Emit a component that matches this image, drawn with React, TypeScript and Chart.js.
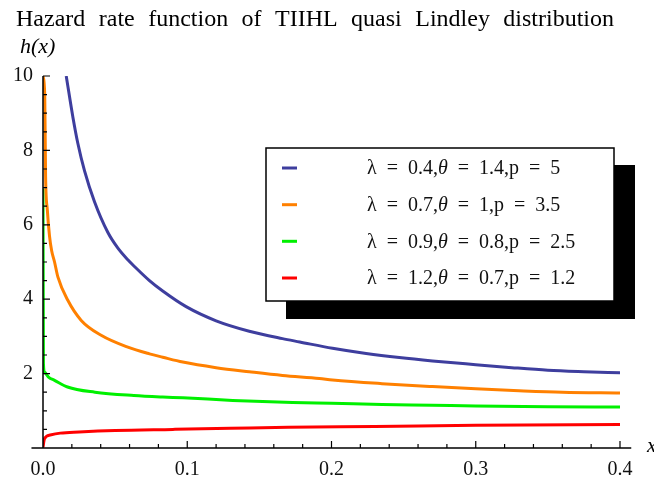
import React, { useEffect, useRef } from "react";
import { Chart, registerables } from "chart.js";

Chart.register(...registerables);

// ---------- text ----------
const TITLE_WORDS = ["Hazard", "rate", "function", "of", "TIIHL", "quasi", "Lindley", "distribution"];
const Y_AXIS_LABEL = "h(x)";
const X_AXIS_LABEL = "x";
const X_TICK_VALUES = [0, 0.1, 0.2, 0.3, 0.4];
const Y_TICK_VALUES = [2, 4, 6, 8, 10];

// ---------- legend parameters ----------
const LAMBDAS = ["0.4", "0.7", "0.9", "1.2"];
const THETAS = ["1.4", "1", "0.8", "0.7"];
const PS = ["5", "3.5", "2.5", "1.2"];
const COLORS = ["#3e3e9e", "#ff8000", "#00f000", "#ff0000"];

// ---------- series values ----------
const blueX = [0.0161, 0.0207, 0.0241, 0.0288, 0.0357, 0.0449, 0.0518, 0.0588, 0.0634, 0.0738, 0.083, 0.0992, 0.12, 0.143, 0.166, 0.178, 0.2007, 0.224, 0.247, 0.27, 0.3, 0.325, 0.35, 0.375, 0.4];
const blueY = [10.0, 8.9, 8.2, 7.45, 6.62, 5.8, 5.38, 5.06, 4.88, 4.5, 4.22, 3.8, 3.42, 3.14, 2.94, 2.85, 2.68, 2.54, 2.43, 2.34, 2.24, 2.16, 2.09, 2.05, 2.02];

const orangeX = [0, 0.0012, 0.0018, 0.003, 0.0045, 0.006, 0.008, 0.0103, 0.0172, 0.0265, 0.0403, 0.0588, 0.0738, 0.083, 0.0969, 0.12, 0.143, 0.166, 0.1916, 0.2007, 0.235, 0.27, 0.3, 0.33, 0.36, 0.4];
const orangeY = [10, 9.5, 7.3, 6.4, 5.7, 5.3, 5.0, 4.6, 3.97, 3.43, 3.03, 2.71, 2.53, 2.44, 2.31, 2.16, 2.05, 1.95, 1.87, 1.83, 1.73, 1.65, 1.59, 1.54, 1.5, 1.48];

const greenX = [0, 0.0003, 0.001, 0.004, 0.008, 0.017, 0.036, 0.063, 0.083, 0.097, 0.1315, 0.173, 0.2, 0.235, 0.27, 0.3, 0.35, 0.4];
const greenY = [6.97, 2.27, 2.04, 1.9, 1.82, 1.64, 1.5, 1.41, 1.37, 1.35, 1.28, 1.22, 1.2, 1.17, 1.15, 1.13, 1.11, 1.1];

const redX = [0, 0.001, 0.005, 0.012, 0.025, 0.05, 0.09, 0.13, 0.17, 0.23, 0.3, 0.4];
const redY = [0.02, 0.25, 0.35, 0.4, 0.43, 0.47, 0.5, 0.53, 0.56, 0.58, 0.61, 0.63];

const SERIES_X = [blueX, orangeX, greenX, redX];
const SERIES_Y = [blueY, orangeY, greenY, redY];

const SERIF = '"Liberation Serif", "Times New Roman", serif';

const decorPlugin = {
  id: "decor",
  afterDatasetsDraw(chart: any) {
    const { ctx } = chart;
    const xs = chart.scales.x;
    const ys = chart.scales.y;
    const x0 = xs.getPixelForValue(0);
    const y0 = ys.getPixelForValue(0);
    ctx.save();
    ctx.strokeStyle = "#000";
    ctx.lineWidth = 1.5;
    ctx.beginPath();
    ctx.moveTo(xs.getPixelForValue(-0.008), y0);
    ctx.lineTo(xs.getPixelForValue(0.4078), y0);
    ctx.moveTo(x0, y0);
    ctx.lineTo(x0, ys.getPixelForValue(10));
    ctx.stroke();
    ctx.lineWidth = 1.2;
    ctx.beginPath();
    for (let i = 1; i <= 20; i++) {
      const px = xs.getPixelForValue(i * 0.02);
      const len = i % 5 === 0 ? 7 : 4;
      ctx.moveTo(px, y0);
      ctx.lineTo(px, y0 - len);
    }
    for (let i = 1; i <= 20; i++) {
      const py = ys.getPixelForValue(i * 0.5);
      const len = i % 4 === 0 ? 7 : 4;
      ctx.moveTo(x0, py);
      ctx.lineTo(x0 + len, py);
    }
    ctx.stroke();
    ctx.restore();
  },
  afterDraw(chart: any) {
    const { ctx } = chart;
    const xs = chart.scales.x;
    const ys = chart.scales.y;
    ctx.save();
    ctx.fillStyle = "#000";
    // title
    ctx.font = `24px ${SERIF}`;
    ctx.textBaseline = "alphabetic";
    ctx.textAlign = "left";
    const widths = TITLE_WORDS.map((w) => ctx.measureText(w).width);
    const total = widths.reduce((a, b) => a + b, 0);
    const startX = 16;
    const endX = 614;
    const gap = (endX - startX - total) / (TITLE_WORDS.length - 1);
    let cx = startX;
    TITLE_WORDS.forEach((w, i) => {
      ctx.fillText(w, cx, 26);
      cx += widths[i] + gap;
    });
    // y axis label h(x)
    ctx.font = `italic 22px ${SERIF}`;
    ctx.fillText(Y_AXIS_LABEL, 20, 53);
    // x axis label
    ctx.font = `italic 21px ${SERIF}`;
    ctx.fillText(X_AXIS_LABEL, xs.getPixelForValue(0.4) + 27, ys.getPixelForValue(0) + 4);

    // legend
    const bx = 266, by = 148, bw = 348, bh = 153;
    ctx.fillStyle = "#000";
    ctx.fillRect(bx + 20, by + 17, bw + 1, bh + 1);
    ctx.fillStyle = "#fff";
    ctx.fillRect(bx, by, bw, bh);
    ctx.strokeStyle = "#000";
    ctx.lineWidth = 1.5;
    ctx.strokeRect(bx, by, bw, bh);
    const rowY = [168, 204.7, 241.3, 278];
    for (let i = 0; i < 4; i++) {
      const yy = rowY[i];
      ctx.strokeStyle = COLORS[i];
      ctx.lineWidth = 3;
      ctx.beginPath();
      ctx.moveTo(282, yy);
      ctx.lineTo(297, yy);
      ctx.stroke();
      ctx.fillStyle = "#111";
      ctx.textBaseline = "middle";
      let tx = 367;
      const parts: [string, boolean][] = [
        ["λ  =  " + LAMBDAS[i] + ",", false],
        ["θ", true],
        ["  =  " + THETAS[i] + ",p  =  " + PS[i], false],
      ];
      parts.forEach(([t, it]) => {
        ctx.font = `${it ? "italic " : ""}20px ${SERIF}`;
        ctx.fillText(t, tx, yy + 1);
        tx += ctx.measureText(t).width;
      });
    }
    ctx.restore();
  },
};

export default function App() {
  const ref = useRef<HTMLCanvasElement | null>(null);
  useEffect(() => {
    if (!ref.current) return;
    const datasets = SERIES_X.map((xsArr, i) => ({
      label: `λ = ${LAMBDAS[i]}, θ = ${THETAS[i]}, p = ${PS[i]}`,
      data: xsArr.map((x, j) => ({ x, y: SERIES_Y[i][j] })),
      borderColor: COLORS[i],
      backgroundColor: COLORS[i],
      borderWidth: 3,
      pointRadius: 0,
      fill: false,
      cubicInterpolationMode: "monotone" as const,
    }));
    const chart = new Chart(ref.current, {
      type: "line",
      data: { datasets },
      options: {
        animation: false,
        responsive: false,
        layout: { padding: { top: 76, right: 34, bottom: 0, left: 0 } },
        plugins: { legend: { display: false }, title: { display: false }, tooltip: { enabled: false } },
        scales: {
          x: {
            type: "linear",
            min: 0,
            max: 0.4,
            grid: { display: false, drawTicks: false },
            border: { display: false },
            ticks: {
              stepSize: 0.1,
              padding: 10,
              color: "#111",
              font: { family: SERIF, size: 20 },
              maxRotation: 0,
              autoSkip: false,
              callback: (v: any) => {
                const n = Number(v);
                return X_TICK_VALUES.some((t) => Math.abs(t - n) < 1e-9) ? n.toFixed(1) : "";
              },
            },
            afterFit: (s: any) => {
              s.height = 31;
            },
          },
          y: {
            type: "linear",
            min: 0,
            max: 10,
            grid: { display: false, drawTicks: false },
            border: { display: false },
            ticks: {
              stepSize: 2,
              padding: 10,
              color: "#111",
              font: { family: SERIF, size: 20 },
              autoSkip: false,
              callback: (v: any) => {
                const n = Number(v);
                return Y_TICK_VALUES.includes(n) ? String(n) : "";
              },
            },
            afterFit: (s: any) => {
              s.width = 43;
            },
          },
        },
      },
      plugins: [decorPlugin],
    });
    return () => chart.destroy();
  }, []);
  return (
    <div style={{ position: "absolute", left: 0, top: 0, width: 654, height: 479, background: "#fff" }}>
      <canvas ref={ref} width={654} height={479} style={{ display: "block" }} />
    </div>
  );
}
